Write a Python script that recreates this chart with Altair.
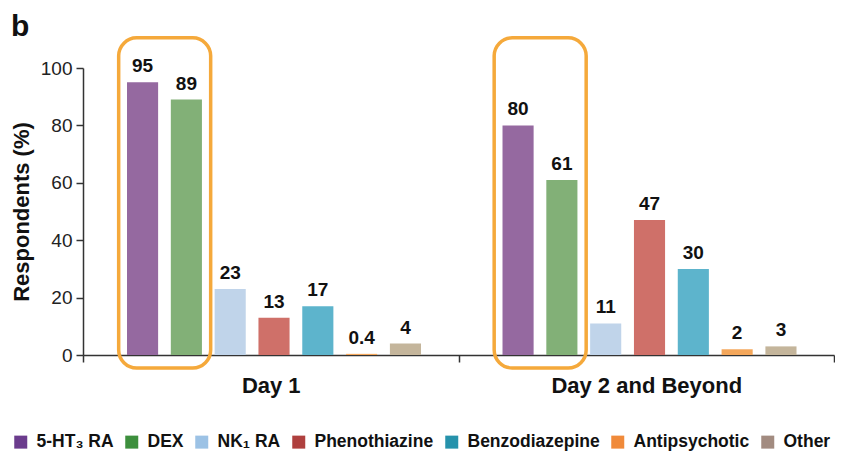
import altair as alt
import pandas as pd

drugs = ["5-HT₃ RA", "DEX", "NK₁ RA", "Phenothiazine", "Benzodiazepine", "Antipsychotic", "Other"]
groups = ["Day 1", "Day 2 and Beyond"]
day1 = [95, 89, 23, 13, 17, 0.4, 4]
day2 = [80, 61, 11, 47, 30, 2, 3]
bar_colors = ["#9569A0", "#82B077", "#C0D4EA", "#CF7069", "#5DB4CC", "#F4A75B", "#C4B59B"]
legend_colors = ["#6B3C8D", "#3D8F3D", "#9CC2E5", "#AF403E", "#2692AB", "#F08A3A", "#A28B80"]
y_ticks = [0, 20, 40, 60, 80, 100]
box_low, box_high = -4.5, 110.5
panel_label = ["b"]

rows = []
for g, vals in zip(groups, [day1, day2]):
    for d, v in zip(drugs, vals):
        rows.append({"group": g, "drug": d, "value": v, "label": f"{v:g}"})
df = pd.DataFrame(rows)
box_df = pd.DataFrame({"group": groups, "lo": [box_low] * 2, "hi": [box_high] * 2})
panel_df = pd.DataFrame({"panel": panel_label})

FONT = "Liberation Sans"

x_enc = alt.X("group:N", sort=groups,
              scale=alt.Scale(domain=groups, paddingInner=0, paddingOuter=0),
              axis=alt.Axis(title=None, labelFontSize=22, labelFontWeight="bold",
                            labelColor="#111", labelFont=FONT, labelAngle=0, labelLimit=500,
                            tickBand="extent", tickSize=7, tickColor="#333", tickWidth=1.5,
                            domainColor="#333", domainWidth=1.5, labelPadding=13))
y_scale = alt.Scale(domain=[0, 100], nice=False, zero=True)
y_enc = alt.Y("value:Q", scale=y_scale,
              axis=alt.Axis(title="Respondents (%)", values=y_ticks, grid=False,
                            titleFontSize=22, titleFontWeight="bold", titleFont=FONT,
                            titleColor="#111", titlePadding=7,
                            labelFontSize=19, labelFont=FONT, labelColor="#222",
                            labelPadding=4, tickSize=7, tickColor="#333", tickWidth=1.5,
                            domainColor="#333", domainWidth=1.5))
xoff = alt.XOffset("drug:N", sort=drugs,
                   scale=alt.Scale(domain=drugs, paddingInner=0.29, paddingOuter=0.93, align=0.54))

base = alt.Chart(df)

bars = base.mark_bar().encode(
    x=x_enc, xOffset=xoff, y=y_enc,
    color=alt.Color("drug:N", scale=alt.Scale(domain=drugs, range=bar_colors), legend=None),
)

labels = base.mark_text(baseline="bottom", dy=-6, fontSize=19, fontWeight="bold",
                        font=FONT, color="#111").encode(
    x=x_enc, xOffset=xoff, y=y_enc, text="label:N")

legend_layer = base.mark_square(opacity=0, size=1).encode(
    x=x_enc, y=alt.Y("value:Q", scale=y_scale),
    color=alt.Color("drug:N", scale=alt.Scale(domain=drugs, range=legend_colors),
                    legend=alt.Legend(orient="none", legendX=-71, legendY=365,
                                      direction="horizontal", title=None,
                                      symbolType="square", symbolSize=169,
                                      symbolOpacity=1, symbolStrokeWidth=0,
                                      labelFontSize=17.5, labelFontWeight="bold",
                                      labelFont=FONT, labelColor="#111",
                                      labelOffset=7, columnPadding=9, labelLimit=300,
                                      columns=7)),
)

box = alt.Chart(box_df).mark_rect(fill=None, stroke="#F5A93B", strokeWidth=3.5,
                                  cornerRadius=18, clip=False).encode(
    x=alt.X("group:N", sort=groups, bandPosition=0.095),
    x2=alt.X2("group:N", bandPosition=0.34),
    y=alt.Y("lo:Q", scale=y_scale),
    y2="hi:Q",
)

panel = alt.Chart(panel_df).mark_text(
    fontSize=30, fontWeight="bold", font=FONT, color="#111",
    align="left", baseline="alphabetic"
).encode(x=alt.value(-72), y=alt.value(-32), text="panel:N")

chart = alt.layer(bars, labels, box, legend_layer, panel).resolve_scale(
    color="independent"
).properties(
    width=751, height=287,
    autosize=alt.AutoSizeParams(type="none"),
    padding={"left": 75, "top": 60, "right": 1, "bottom": 97},
).configure_view(stroke=None)

chart.save("out.html", embed_options={"renderer": "svg", "actions": False})
